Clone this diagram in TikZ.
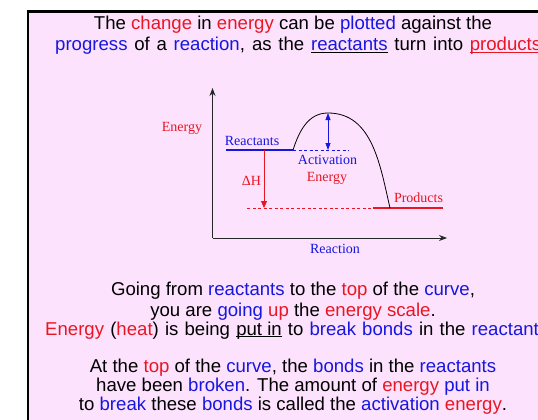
\documentclass[tikz,border=0pt]{standalone}
\usepackage{fontspec}
\setmainfont{Liberation Sans}
\newfontfamily\tms{Liberation Serif}
\usetikzlibrary{arrows.meta}
\definecolor{bgpink}{RGB}{253,226,253}
\definecolor{tred}{RGB}{232,22,34}
\definecolor{tblue}{RGB}{22,22,222}
\newcommand{\rd}[1]{\textcolor{tred}{#1}}
\newcommand{\bl}[1]{\textcolor{tblue}{#1}}
\newcommand{\ulx}[1]{\setbox0\hbox{#1}\rlap{\rule[-2.2pt]{\wd0}{1.1pt}}\copy0\relax}
\begin{document}
\begin{tikzpicture}[x=1pt,y=-1pt,
  body/.style={font=\fontsize{18.6}{21}\selectfont, anchor=base, inner sep=0pt},
  lbl/.style={font=\tms\fontsize{14}{16}\selectfont, anchor=base, inner sep=0pt},
  axisline/.style={draw=black!85, line width=0.9pt, -{Stealth[length=8pt,width=6pt]}},
  levelline/.style={line width=2.4pt},
  dashline/.style={line width=0.7pt, dash pattern=on 3pt off 2.5pt},
  gap/.style={line width=0.8pt, {Triangle[length=7pt,width=5pt]}-{Triangle[length=7pt,width=5pt]}},
  dh/.style={line width=0.8pt, -{Triangle[length=7pt,width=6pt]}}]
\useasboundingbox (0,0) rectangle (538,420);
\fill[white] (0,0) rectangle (538,420);
\fill[bgpink] (28,11.5) rectangle (560,440);
\draw[line width=2.5pt] (28,440) -- (28,11.5) -- (560,11.5);

% top text
\node[body] (t1) at (293,30) {The \rd{change} in \rd{energy} can be \bl{plotted} against the};
\node[body, anchor=base west] (t2) at (55,51) {\makebox[486pt][s]{\bl{progress} of a \bl{reaction}, as the \ulx{\bl{reactants}} turn into \rd{\ulx{products}}}};

% diagram
\coordinate (O) at (212.5,238);
\coordinate (Ytop) at (212.5,88);
\coordinate (Xend) at (447,238);
\draw[axisline] (O) -- (Ytop);
\draw[axisline] (O) -- (Xend);

\coordinate (R1) at (226,150);
\coordinate (R2) at (293,150);
\coordinate (Pk) at (328,113);
\coordinate (AEb) at (328,150);
\coordinate (AEd) at (349,150);
\coordinate (C1) at (390,208);
\coordinate (P0) at (373,208);
\coordinate (P2) at (443,208);
\coordinate (DH1) at (264,150);
\coordinate (DH2) at (264,208);
\coordinate (Dd) at (247,208);

\draw[dashline, tblue] (R2) -- (AEd);
\draw[dashline, tred] (Dd) -- (P0);
\draw[levelline, tblue] (R1) -- (R2);
\draw[levelline, tred] (P0) -- (P2);
\draw[line width=0.8pt] (R2) to[out=72,in=180] (Pk) to[out=0,in=103] (C1);
\draw[gap, tblue] (Pk) -- (AEb);
\draw[dh, tred] (DH1) -- (DH2);

\node[lbl, text=tred] (lE) at (182,131) {Energy};
\node[lbl, text=tblue] (lR) at (252,145) {Reactants};
\node[lbl, text=tblue] (lA) at (327.5,164) {Activation};
\node[lbl, text=tred] (lAE) at (327,181) {Energy};
\node[lbl, text=tred] (lH) at (251.5,185) {ΔH};
\node[lbl, text=tred] (lP) at (418.5,202) {Products};
\node[lbl, text=tblue] (lX) at (335,253) {Reaction};

% bottom text
\node[body] (b1) at (293,295) {Going from \bl{reactants} to the \rd{top} of the \bl{curve},};
\node[body] (b2) at (293,316) {you are \bl{going} \rd{up} the \rd{energy scale}.};
\node[body, anchor=base west] (b3) at (45,335) {\makebox[503pt][s]{\rd{Energy} (\rd{heat}) is being \ulx{put in} to \bl{break bonds} in the \bl{reactants}}};
\node[body] (b4) at (293,372) {At the \rd{top} of the \bl{curve}, the \bl{bonds} in the \bl{reactants}};
\node[body] (b5) at (293,391) {have been \bl{broken}. The amount of \rd{energy} \bl{put in}};
\node[body] (b6) at (293,410) {to \bl{break} these \bl{bonds} is called the \bl{activation} \rd{energy}.};
\end{tikzpicture}
\end{document}
